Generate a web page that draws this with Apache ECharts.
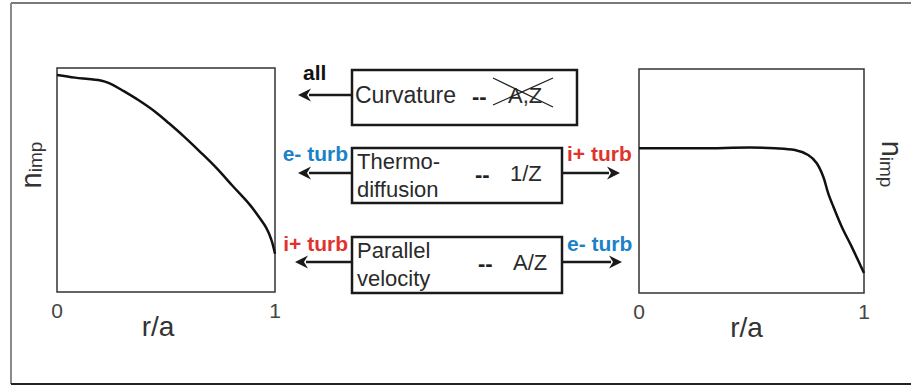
<!DOCTYPE html>
<html>
<head>
<meta charset="utf-8">
<script src="https://cdn.jsdelivr.net/npm/echarts@6/dist/echarts.min.js"></script>
<style>
  html, body { margin: 0; padding: 0; background: #fff; }
  #chart { width: 911px; height: 385px; }
</style>
</head>
<body>
<div id="chart"></div>
<script>
// Impurity density profile, peaked case (left panel)
const leftR = [0, 0.083, 0.144, 0.189, 0.220, 0.251, 0.297, 0.373, 0.450, 0.515, 0.578, 0.654, 0.731, 0.807, 0.884, 0.930, 0.960, 0.983, 1.0];
const leftN = [0.969, 0.957, 0.951, 0.946, 0.939, 0.927, 0.902, 0.857, 0.805, 0.752, 0.698, 0.628, 0.554, 0.472, 0.390, 0.330, 0.286, 0.234, 0.171];

// Impurity density profile, flat case (right panel)
const rightR = [0, 0.271, 0.493, 0.604, 0.693, 0.752, 0.790, 0.819, 0.841, 0.864, 0.901, 0.945, 1.0];
const rightN = [0.646, 0.646, 0.649, 0.646, 0.638, 0.616, 0.579, 0.519, 0.445, 0.385, 0.296, 0.207, 0.089];

// Radial axis ticks
const rTicks = [0, 1];

// Transport mechanisms: name lines, scaling, left / right drivers
const mechLines = [['Curvature'], ['Thermo-', 'diffusion'], ['Parallel', 'velocity']];
const mechScaling = ['A,Z', '1/Z', 'A/Z'];
const leftDriver = ['all', 'e- turb', 'i+ turb'];
const rightDriver = [null, 'i+ turb', 'e- turb'];

const FONT = "'Liberation Sans', Arial, sans-serif";
const INK = '#2a2a2a';
const BLUE = '#1c82c8';
const RED = '#e2322d';
const driverColor = { 'all': '#111', 'e- turb': BLUE, 'i+ turb': RED };

const chart = echarts.init(document.getElementById('chart'), null, { renderer: 'svg' });

function rAxis(gridIndex, shift) {
  return {
    type: 'value', gridIndex, min: rTicks[0], max: rTicks[rTicks.length - 1], interval: 1,
    axisLine: { show: false }, axisTick: { show: false }, splitLine: { show: false },
    axisLabel: { color: '#444', fontSize: 21, fontFamily: FONT, margin: 8,
      formatter: v => rTicks.includes(v) ? String(v) : '' },
    name: 'r/a', nameLocation: 'middle', nameGap: 20, nameMoveOverlap: false,
    nameTextStyle: { fontSize: 28, color: '#333', fontFamily: FONT, padding: [0, shift, 0, 0] }
  };
}
const nimpRich = {
  n: { fontSize: 29, fontFamily: FONT, color: '#333', verticalAlign: 'bottom', lineHeight: 26 },
  s: { fontSize: 19, fontFamily: FONT, color: '#333', verticalAlign: 'bottom', lineHeight: 26 }
};
function nAxis(gridIndex, position, rotate, gap, padding) {
  return { type: 'value', gridIndex, min: 0, max: 1, position,
    axisLine: { show: false }, axisTick: { show: false }, splitLine: { show: false },
    axisLabel: { show: false },
    name: '{n|n}{s|imp}', nameLocation: 'middle', nameRotate: rotate, nameGap: gap, nameMoveOverlap: false,
    nameTextStyle: { rich: nimpRich, padding } };
}

// Arrow: shaft plus barbed head pointing toward x2
function arrow(x1, x2, y) {
  const d = x2 > x1 ? 1 : -1;
  const L = 13, W = 6.5, N = 4;
  return [
    { type: 'line', shape: { x1, y1: y, x2: x2 - d * (L - 2), y2: y },
      style: { stroke: '#1a1a1a', lineWidth: 2.5 } },
    { type: 'polygon', shape: { points: [[x2, y], [x2 - d * L, y - W], [x2 - d * (L - N), y], [x2 - d * L, y + W]] },
      style: { fill: '#1a1a1a' } }
  ];
}
function txt(text, x, y, opts) {
  return { type: 'text', x, y, style: Object.assign({
    text, fontSize: 22, fontFamily: FONT, fill: INK, align: 'left', verticalAlign: 'middle'
  }, opts || {}) };
}

const boxes = [
  { x: 352, y: 70, w: 225, h: 55, cy: 95 },
  { x: 352, y: 148, w: 210, h: 55, cy: 173 },
  { x: 352, y: 237, w: 210, h: 56, cy: 262 }
];
const dashX = [472, 475, 478];
const scaleX = [508, 510, 513];
const leftTip = [298, 298, 295];
const rightTip = [null, 620, 622];
const driverY = [72, 153, 243];

const g = [];
// outer frame
g.push({ type: 'line', shape: { x1: 11, y1: 3, x2: 911, y2: 3 }, style: { stroke: '#7a7a7a', lineWidth: 2 } });
g.push({ type: 'line', shape: { x1: 11, y1: 3, x2: 11, y2: 384 }, style: { stroke: '#8a8a8a', lineWidth: 2 } });
g.push({ type: 'line', shape: { x1: 11, y1: 384, x2: 911, y2: 384 }, style: { stroke: '#222', lineWidth: 2 } });

boxes.forEach((b, i) => {
  g.push({ type: 'rect', shape: { x: b.x, y: b.y, width: b.w, height: b.h },
    style: { fill: 'none', stroke: '#1a1a1a', lineWidth: 2.5 } });
  const lines = mechLines[i];
  if (lines.length === 1) {
    g.push(txt(lines[0], 355, b.cy, { fontSize: 23 }));
  } else {
    g.push(txt(lines[0], 357, b.cy - 12, { fontSize: 22 }));
    g.push(txt(lines[1], 357, b.cy + 16, { fontSize: 22 }));
  }
  g.push(txt('--', dashX[i], b.cy + 1, { fontWeight: 'bold', fill: '#222' }));
  g.push(txt(mechScaling[i], scaleX[i], b.cy, { fontSize: 22 }));
  // left driver
  g.push(...arrow(b.x, leftTip[i], b.cy));
  const ld = leftDriver[i];
  if (i === 0) {
    g.push(txt(ld, 303, driverY[i], { fontWeight: 'bold', fontSize: 21, fill: driverColor[ld] }));
  } else {
    g.push(txt(ld, 348, driverY[i], { fontWeight: 'bold', fontSize: 21, fill: driverColor[ld], align: 'right' }));
  }
  const rd = rightDriver[i];
  if (rd) {
    g.push(...arrow(b.x + b.w + 1, rightTip[i], b.cy));
    g.push(txt(rd, 567, driverY[i], { fontWeight: 'bold', fontSize: 21, fill: driverColor[rd] }));
  }
});
// scaling struck out for curvature
g.push({ type: 'line', shape: { x1: 493, y1: 78, x2: 553, y2: 107 }, style: { stroke: '#222', lineWidth: 1.3 } });
g.push({ type: 'line', shape: { x1: 493, y1: 105, x2: 553, y2: 78 }, style: { stroke: '#222', lineWidth: 1.3 } });

const option = {
  animation: false,
  backgroundColor: '#fff',
  grid: [
    { left: 57, top: 68, width: 218, height: 224, show: true, borderColor: '#333', borderWidth: 1.5,
      backgroundColor: 'transparent', outerBoundsMode: 'none', containLabel: false },
    { left: 639, top: 69, width: 225, height: 224, show: true, borderColor: '#333', borderWidth: 1.5,
      backgroundColor: 'transparent', outerBoundsMode: 'none', containLabel: false }
  ],
  xAxis: [rAxis(0, 16), rAxis(1, 10)],
  yAxis: [
    nAxis(0, 'left', 90, 12, [0, 0, 0, 30]),
    nAxis(1, 'right', -90, 13, [0, 34, 0, 0])
  ],
  series: [
    { type: 'line', xAxisIndex: 0, yAxisIndex: 0, smooth: 0.35, showSymbol: false,
      lineStyle: { color: '#111', width: 2.5 }, data: leftR.map((r, i) => [r, leftN[i]]) },
    { type: 'line', xAxisIndex: 1, yAxisIndex: 1, smooth: 0.35, showSymbol: false,
      lineStyle: { color: '#111', width: 2.5 }, data: rightR.map((r, i) => [r, rightN[i]]) }
  ],
  graphic: g
};
chart.setOption(option);
</script>
</body>
</html>
